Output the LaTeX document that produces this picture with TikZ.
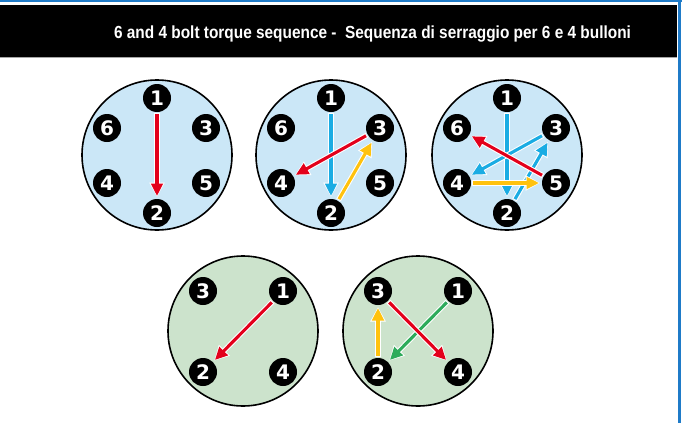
\documentclass[tikz,border=0pt]{standalone}
\usepackage{fontspec}
\usetikzlibrary{arrows.meta}
\newfontfamily\titlefont[FakeStretch=0.88]{Liberation Sans}
\newfontfamily\boltfont{DejaVu Sans}
\definecolor{topblue}{HTML}{1F7BC8}
\definecolor{platebl}{HTML}{CBE7F7}
\definecolor{plategr}{HTML}{CCE3CC}
\definecolor{cred}{HTML}{E3001B}
\definecolor{cblue}{HTML}{1AACE3}
\definecolor{cyel}{HTML}{FFC20E}
\definecolor{cgreen}{HTML}{2EAB5B}
\tikzset{
  plate/.style={circle, draw=black, line width=1.6pt, minimum size=150pt, inner sep=0pt},
  bolt/.style={circle, fill=black, minimum size=28pt, inner sep=0pt, outer sep=0pt,
    text=white, font=\boltfont\bfseries\fontsize{20}{20}\selectfont},
  halo/.style={draw=white, line width=5.2pt, shorten <=1pt, shorten >=2pt,
    -{Triangle[length=14.5pt,width=14.5pt]}},
  arr/.style={draw=#1, line width=3.1pt, shorten <=2pt, shorten >=3pt,
    -{Triangle[length=12.5pt,width=11.5pt]}},
}
\newcommand\boltarrow[3]{\draw[halo] (#2) -- (#3); \draw[arr=#1] (#2) -- (#3);}
\begin{document}
\begin{tikzpicture}[x=1pt,y=-1pt]
\useasboundingbox (0,0) rectangle (682,423);
% frame
\fill[topblue] (0,0) rectangle (682,2);
\fill[black] (0,5) rectangle (677,57);
\fill[black!35] (0,57) rectangle (677,58.2);
\fill[topblue] (678,0) rectangle (681,423);
\node[anchor=base, text=white, font=\titlefont\bfseries\fontsize{17.5}{18}\selectfont, inner sep=0pt] (title) at (372.5,38.5)
  {6 and 4 bolt torque sequence -\ \ Sequenza di serraggio per 6 e 4 bulloni};
% six-bolt plates
\foreach \p/\cx in {a/157, b/331, c/507}{
  \node[plate, fill=platebl] (\p) at (\cx,155) {};
  \node[bolt] (\p1) at (\cx,98) {1};
  \node[bolt] (\p2) at (\cx,213) {2};
  \node[bolt] (\p6) at (\cx-50,128) {6};
  \node[bolt] (\p3) at (\cx+49,128) {3};
  \node[bolt] (\p4) at (\cx-50,183) {4};
  \node[bolt] (\p5) at (\cx+49,183) {5};
}
% four-bolt plates
\foreach \p/\cx in {d/243, e/418}{
  \node[plate, fill=plategr] (\p) at (\cx,331) {};
  \node[bolt] (\p3) at (\cx-40,291) {3};
  \node[bolt] (\p1) at (\cx+40,291) {1};
  \node[bolt] (\p2) at (\cx-40,372) {2};
  \node[bolt] (\p4) at (\cx+40,372) {4};
}
% plate a
\boltarrow{cred}{a1}{a2}
% plate b
\boltarrow{cblue}{b1}{b2}
\boltarrow{cyel}{b2}{b3}
\boltarrow{cred}{b3}{b4}
% plate c
\boltarrow{cblue}{c1}{c2}
\boltarrow{cblue}{c2}{c3}
\boltarrow{cblue}{c3}{c4}
\boltarrow{cyel}{c4}{c5}
\boltarrow{cred}{c5}{c6}
% plate d
\boltarrow{cred}{d1}{d2}
% plate e
\boltarrow{cgreen}{e1}{e2}
\boltarrow{cyel}{e2}{e3}
\boltarrow{cred}{e3}{e4}
\end{tikzpicture}
\end{document}
